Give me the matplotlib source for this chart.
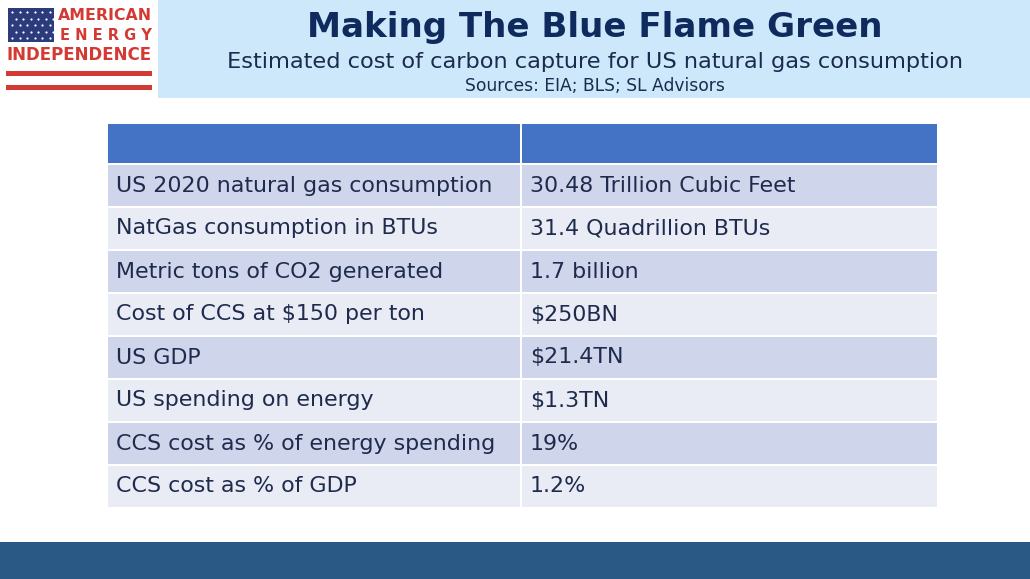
import matplotlib
matplotlib.use("Agg")
import matplotlib.pyplot as plt
from matplotlib.patches import Rectangle

plt.rcParams['font.family'] = ['DejaVu Sans']

# table contents
row_labels = ['US 2020 natural gas consumption', 'NatGas consumption in BTUs',
              'Metric tons of CO2 generated', 'Cost of CCS at $150 per ton',
              'US GDP', 'US spending on energy',
              'CCS cost as % of energy spending', 'CCS cost as % of GDP']
row_values = ['30.48 Trillion Cubic Feet', '31.4 Quadrillion BTUs', '1.7 billion',
              '$250BN', '$21.4TN', '$1.3TN', '19%', '1.2%']

title = 'Making The Blue Flame Green'
subtitle = 'Estimated cost of carbon capture for US natural gas consumption'
sources = 'Sources: EIA; BLS; SL Advisors'

W, H = 1030, 579
fig = plt.figure(figsize=(W / 100, H / 100), dpi=100, facecolor='white')
ax = fig.add_axes([0, 0, 1, 1])
ax.set_xlim(0, W)
ax.set_ylim(H, 0)
ax.axis('off')

# header band
ax.add_patch(Rectangle((158, 0), W - 158, 98, color='#cde8fb', lw=0))
ax.text(595, 27, title, ha='center', va='center', fontsize=24.6, fontweight='bold', color='#0f2a5c')
ax.text(595, 62, subtitle, ha='center', va='center', fontsize=16.2, color='#1b2b4e')
ax.text(595, 86, sources, ha='center', va='center', fontsize=12.3, color='#1b2b4e')

# logo
red = '#d23a33'
ax.add_patch(Rectangle((8, 8), 46, 34, color='#2c3b7c', lw=0))
for i in range(5):
    for j in range(6):
        ax.plot(12 + j * 7.5 + (i % 2) * 3.5, 12 + i * 6.5, 'o', ms=1.6, color='white', mec='none')
ax.text(152, 16, 'AMERICAN', ha='right', va='center', fontsize=11.3, fontweight='bold', color=red)
ax.text(152, 36, 'E N E R G Y', ha='right', va='center', fontsize=10.5, fontweight='bold', color=red)
ax.text(79, 55, 'INDEPENDENCE', ha='center', va='center', fontsize=12, fontweight='bold', color=red)
ax.add_patch(Rectangle((6, 71), 146, 5, color=red, lw=0))
ax.add_patch(Rectangle((6, 85), 146, 5, color=red, lw=0))

# table
x0, xm, x1 = 108, 521, 937
y_head, head_h, row_h = 124, 39, 43
ax.add_patch(Rectangle((x0, y_head), xm - x0 - 1, head_h, color='#4472c4', lw=0))
ax.add_patch(Rectangle((xm + 1, y_head), x1 - xm - 1, head_h, color='#4472c4', lw=0))
y = y_head + head_h + 2
for i, (lab, val) in enumerate(zip(row_labels, row_values)):
    c = '#cfd5ea' if i % 2 == 0 else '#e9ebf5'
    ax.add_patch(Rectangle((x0, y), xm - x0 - 1, row_h - 2, color=c, lw=0))
    ax.add_patch(Rectangle((xm + 1, y), x1 - xm - 1, row_h - 2, color=c, lw=0))
    ax.text(x0 + 8, y + row_h / 2 - 1, lab, ha='left', va='center', fontsize=15.9, color='#1f2b4d')
    ax.text(xm + 9, y + row_h / 2 - 1, val, ha='left', va='center', fontsize=15.9, color='#1f2b4d')
    y += row_h

# footer band
ax.add_patch(Rectangle((0, 542), W, H - 542, color='#2a5985', lw=0))

fig.savefig('out.png', dpi=100, facecolor='white')
